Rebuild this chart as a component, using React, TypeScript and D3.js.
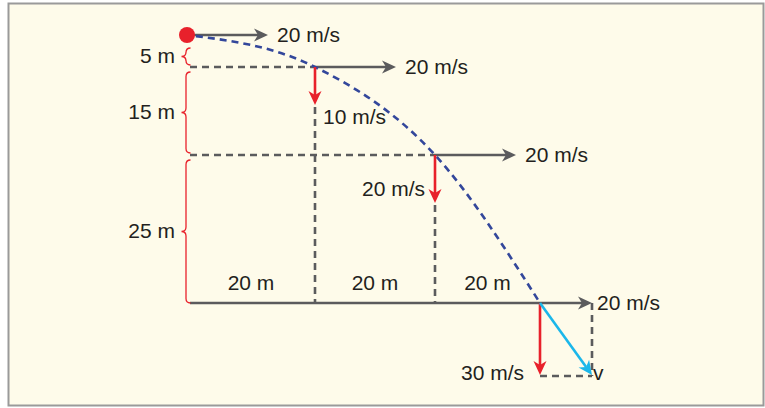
import React from "react";
import * as d3 from "d3";

// ---- data ----
const distances = [0, 20, 40, 60]; // horizontal distance travelled (m)
const drops = [0, 5, 20, 45]; // vertical drop (m)
const horizontalSpeed = 20; // m/s
const verticalSpeeds = [0, 10, 20, 30]; // m/s
const heightLabels = ["5 m", "15 m", "25 m"];
const distanceLabels = ["20 m", "20 m", "20 m"];
const speedUnit = "m/s";
const resultantLabel = "v";

const W = 765;
const H = 408;
const FONT = "'Liberation Sans', Arial, Helvetica, sans-serif";
const GRAY = "#5b5b5d";
const RED = "#e8212b";
const BLUE = "#33479b";
const CYAN = "#1bb7ea";
const TEXT = "#231f20";

// scales (diagram is not drawn to scale, so piecewise)
const x = d3.scaleLinear().domain(distances).range([187, 315, 435, 540]);
const y = d3.scaleLinear().domain(drops).range([35, 67, 155, 303]);
const hLen = d3.scaleLinear().domain([0, 20]).range([0, 81]);
const vLen = d3.scaleLinear().domain(verticalSpeeds).range([0, 38, 48, 72]);
const boxLen = d3.scaleLinear().domain([0, 20]).range([0, 52]);

function Head({ x1, y1, x2, y2, color }: any) {
  const ang = (Math.atan2(y2 - y1, x2 - x1) * 180) / Math.PI;
  return (
    <path
      d="M0,0 L-14,-6.5 L-10,0 L-14,6.5 Z"
      fill={color}
      transform={`translate(${x2},${y2}) rotate(${ang})`}
    />
  );
}

function Arrow({ x1, y1, x2, y2, color, w = 2.6 }: any) {
  const ang = Math.atan2(y2 - y1, x2 - x1);
  const ex = x2 - Math.cos(ang) * 10;
  const ey = y2 - Math.sin(ang) * 10;
  return (
    <g>
      <line x1={x1} y1={y1} x2={ex} y2={ey} stroke={color} strokeWidth={w} />
      <Head x1={x1} y1={y1} x2={x2} y2={y2} color={color} />
    </g>
  );
}

function bracePath(xb: number, top: number, bot: number) {
  const mid = (top + bot) / 2;
  const r = 4.5;
  return [
    `M${xb + r},${top}`,
    `Q${xb},${top} ${xb},${top + r}`,
    `L${xb},${mid - r}`,
    `Q${xb},${mid} ${xb - r},${mid}`,
    `Q${xb},${mid} ${xb},${mid + r}`,
    `L${xb},${bot - r}`,
    `Q${xb},${bot} ${xb + r},${bot}`,
  ].join(" ");
}

export default function App() {
  const pts: [number, number][] = distances.map((d, i) => [x(d), y(drops[i])]);
  const traj = d3.line().curve(d3.curveMonotoneX)(pts) as string;
  const last = distances.length - 1;
  const xb = 186;

  const textProps = { fontFamily: FONT, fontSize: 21, fill: TEXT };

  return (
    <svg
      width={W}
      height={H}
      style={{ position: "absolute", left: 0, top: 0, display: "block" }}
    >
      <rect x={8.5} y={3.5} width={755} height={402} fill="#fefbea" stroke="#9a9a9a" strokeWidth={2} />

      {/* horizontal dashed reference lines */}
      {drops.slice(1, last).map((d, i) => (
        <line
          key={"hd" + i}
          x1={190}
          x2={x(distances[i + 1])}
          y1={y(d)}
          y2={y(d)}
          stroke={GRAY}
          strokeWidth={2.6}
          strokeDasharray="7,5"
        />
      ))}
      {/* vertical dashed lines below the red arrows */}
      {distances.slice(1, last).map((d, i) => (
        <line
          key={"vd" + i}
          x1={x(d)}
          x2={x(d)}
          y1={y(drops[i + 1]) + vLen(verticalSpeeds[i + 1]) + 2}
          y2={y(drops[last])}
          stroke={GRAY}
          strokeWidth={2.6}
          strokeDasharray="7,5"
        />
      ))}

      {/* ground line */}
      <line x1={190} x2={x(distances[last])} y1={y(drops[last])} y2={y(drops[last])} stroke={GRAY} strokeWidth={2.6} />

      {/* final velocity box */}
      <line
        x1={x(distances[last]) + boxLen(horizontalSpeed)}
        x2={x(distances[last]) + boxLen(horizontalSpeed)}
        y1={y(drops[last])}
        y2={y(drops[last]) + vLen(verticalSpeeds[last]) + 1}
        stroke={GRAY}
        strokeWidth={2.6}
        strokeDasharray="7,5"
      />
      <line
        x1={x(distances[last])}
        x2={x(distances[last]) + boxLen(horizontalSpeed)}
        y1={y(drops[last]) + vLen(verticalSpeeds[last]) + 1}
        y2={y(drops[last]) + vLen(verticalSpeeds[last]) + 1}
        stroke={GRAY}
        strokeWidth={2.6}
        strokeDasharray="7,5"
      />

      {/* braces */}
      {heightLabels.map((lab, i) => {
        const top = i === 0 ? y(drops[0]) + 13 : y(drops[i]) + 5;
        const bot = y(drops[i + 1]) - (i === heightLabels.length - 1 ? 0 : 2);
        const mid = (top + bot) / 2;
        return (
          <g key={"br" + i}>
            <path d={bracePath(xb, top, bot)} fill="none" stroke={RED} strokeWidth={1.3} />
            <text x={175} y={mid + 6} textAnchor="end" {...textProps}>
              {lab}
            </text>
          </g>
        );
      })}

      {/* horizontal velocity arrows */}
      {distances.map((d, i) => {
        const x0 = x(d);
        const y0 = y(drops[i]);
        const len = i === last ? boxLen(horizontalSpeed) : hLen(horizontalSpeed);
        return (
          <g key={"ha" + i}>
            <Arrow x1={x0} y1={y0} x2={x0 + len} y2={y0} color={GRAY} />
            <text x={x0 + len + (i === last ? 5 : 9)} y={y0 + 7} {...textProps}>
              {`${horizontalSpeed} ${speedUnit}`}
            </text>
          </g>
        );
      })}

      {/* trajectory */}
      <path d={traj} fill="none" stroke={BLUE} strokeWidth={2.6} strokeDasharray="7,5" strokeDashoffset={-9} />

      {/* vertical velocity arrows */}
      {distances.map((d, i) => {
        if (i === 0) return null;
        const x0 = x(d);
        const y0 = y(drops[i]);
        const len = vLen(verticalSpeeds[i]);
        const lab = `${verticalSpeeds[i]} ${speedUnit}`;
        return (
          <g key={"va" + i}>
            <Arrow x1={x0} y1={y0} x2={x0} y2={y0 + len} color={RED} />
            {i === 1 ? (
              <text x={x0 + 8} y={y0 + len + 19} {...textProps}>
                {lab}
              </text>
            ) : i === last ? (
              <text x={x0 - 16} y={y0 + len + 5} textAnchor="end" {...textProps}>
                {lab}
              </text>
            ) : (
              <text x={x0 - 10} y={y0 + len - 7} textAnchor="end" {...textProps}>
                {lab}
              </text>
            )}
          </g>
        );
      })}

      {/* resultant */}
      <Arrow
        x1={x(distances[last])}
        y1={y(drops[last])}
        x2={x(distances[last]) + boxLen(horizontalSpeed)}
        y2={y(drops[last]) + vLen(verticalSpeeds[last])}
        color={CYAN}
      />
      <text
        x={x(distances[last]) + boxLen(horizontalSpeed) + 1}
        y={y(drops[last]) + vLen(verticalSpeeds[last]) + 5}
        {...textProps}
      >
        {resultantLabel}
      </text>

      {/* distance labels */}
      {distanceLabels.map((lab, i) => (
        <text
          key={"dl" + i}
          x={(x(distances[i]) + x(distances[i + 1])) / 2}
          y={y(drops[last]) - 13}
          textAnchor="middle"
          {...textProps}
        >
          {lab}
        </text>
      ))}

      {/* ball */}
      <circle cx={x(distances[0])} cy={y(drops[0])} r={8} fill={RED} />
    </svg>
  );
}
